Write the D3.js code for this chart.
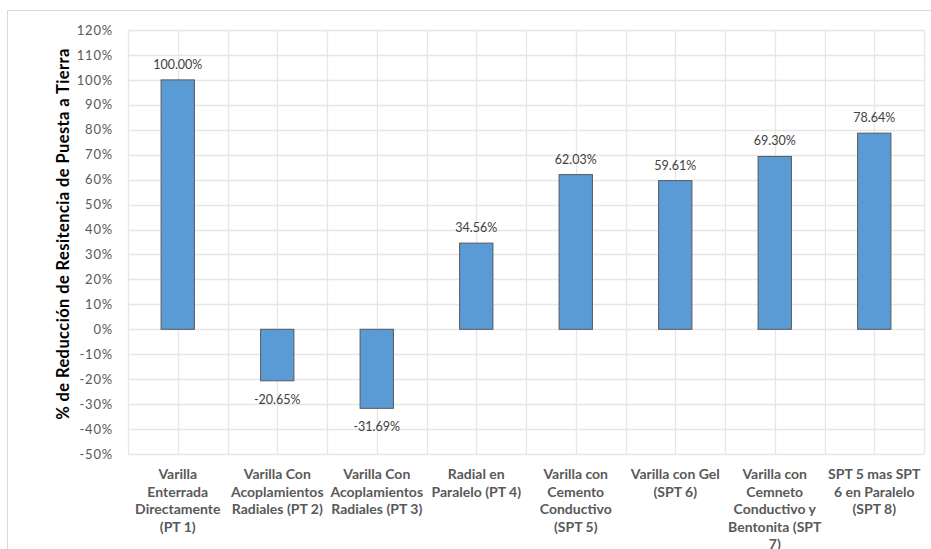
<!DOCTYPE html>
<html><head><meta charset="utf-8">
<script src="https://cdn.jsdelivr.net/npm/d3@7"></script>
<style>body{margin:0;background:#fff;}svg{display:block;font-family:Lato,"Open Sans",sans-serif;}</style>
</head><body>
<svg id="c" width="931" height="549"></svg>
<script>
const categories = [
  ["Varilla","Enterrada","Directamente","(PT 1)"],
  ["Varilla Con","Acoplamientos","Radiales (PT 2)"],
  ["Varilla Con","Acoplamientos","Radiales (PT 3)"],
  ["Radial en","Paralelo (PT 4)"],
  ["Varilla con","Cemento","Conductivo","(SPT 5)"],
  ["Varilla con Gel","(SPT 6)"],
  ["Varilla con","Cemneto","Conductivo y","Bentonita (SPT","7)"],
  ["SPT 5 mas SPT","6 en Paralelo","(SPT 8)"]
];
const values = [100.00, -20.65, -31.69, 34.56, 62.03, 59.61, 69.30, 78.64];
const yTicks = [-50,-40,-30,-20,-10,0,10,20,30,40,50,60,70,80,90,100,110,120];
const yTitle = "% de Reducción de Resitencia de Puesta a Tierra";

const svg = d3.select("#c");
const L = 128, R = 924, T = 30, B = 454;
svg.append("rect").attr("x",7.5).attr("y",10.5).attr("width",930).attr("height",560)
  .attr("fill","none").attr("stroke","#d9d9d9");

const x = d3.scaleBand().domain(d3.range(values.length)).range([L,R]).paddingInner(0).paddingOuter(0);
const y = d3.scaleLinear().domain([-50,120]).range([B,T]);
const bw = x.bandwidth();

// horizontal grid
svg.append("g").selectAll("line").data(yTicks).join("line")
  .attr("x1",L).attr("x2",R).attr("y1",d=>Math.round(y(d))+0.5).attr("y2",d=>Math.round(y(d))+0.5)
  .attr("stroke","#e6e6e6").attr("stroke-width",1.3);
// vertical grid: boundaries and centres
const vx = [];
for (let i=0;i<=values.length;i++){ vx.push(L+i*bw); if(i<values.length) vx.push(L+i*bw+bw/2); }
svg.append("g").selectAll("line").data(vx).join("line")
  .attr("x1",d=>Math.round(d)+0.5).attr("x2",d=>Math.round(d)+0.5).attr("y1",T).attr("y2",B)
  .attr("stroke","#e6e6e6").attr("stroke-width",1.3);

// y axis labels
const yAxis = d3.axisLeft(y).tickValues(yTicks).tickFormat(d=>d+"%").tickSize(0).tickPadding(0);
const ga = svg.append("g").attr("transform",`translate(${113},0)`).call(yAxis);
ga.select(".domain").remove();
ga.selectAll("text").attr("fill","#595959").attr("font-size",13).attr("letter-spacing","0.8px")
  .attr("font-family","Lato,'Open Sans',sans-serif");

// bars
const barW = bw*0.335;
svg.append("g").selectAll("rect").data(values).join("rect")
  .attr("x",(d,i)=>x(i)+bw/2-barW/2)
  .attr("y",d=>y(Math.max(0,d)))
  .attr("width",barW)
  .attr("height",d=>Math.abs(y(d)-y(0)))
  .attr("fill","#5b9bd5").attr("stroke","#595959").attr("stroke-width",1);

// data labels
svg.append("g").selectAll("text").data(values).join("text")
  .attr("x",(d,i)=>x(i)+bw/2)
  .attr("y",d=> d>=0 ? y(d)-11 : y(d)+23)
  .attr("text-anchor","middle").attr("fill","#404040").attr("font-size",12.5)
  .text(d=>d.toFixed(2)+"%");

// category labels
const cg = svg.append("g");
categories.forEach((lines,i)=>{
  const t = cg.append("text").attr("text-anchor","middle").attr("fill","#595959")
    .attr("font-size",14).attr("font-weight","bold");
  lines.forEach((ln,j)=>{
    t.append("tspan").attr("x",x(i)+bw/2).attr("y",479+j*17.5).text(ln);
  });
});

// y title
svg.append("text").attr("transform",`translate(69,${234}) rotate(-90)`)
  .attr("text-anchor","middle").attr("font-weight","bold").attr("font-size",16.5)
  .attr("letter-spacing","0.4px").attr("fill","#000")
  .text(yTitle);
</script>
</body></html>
